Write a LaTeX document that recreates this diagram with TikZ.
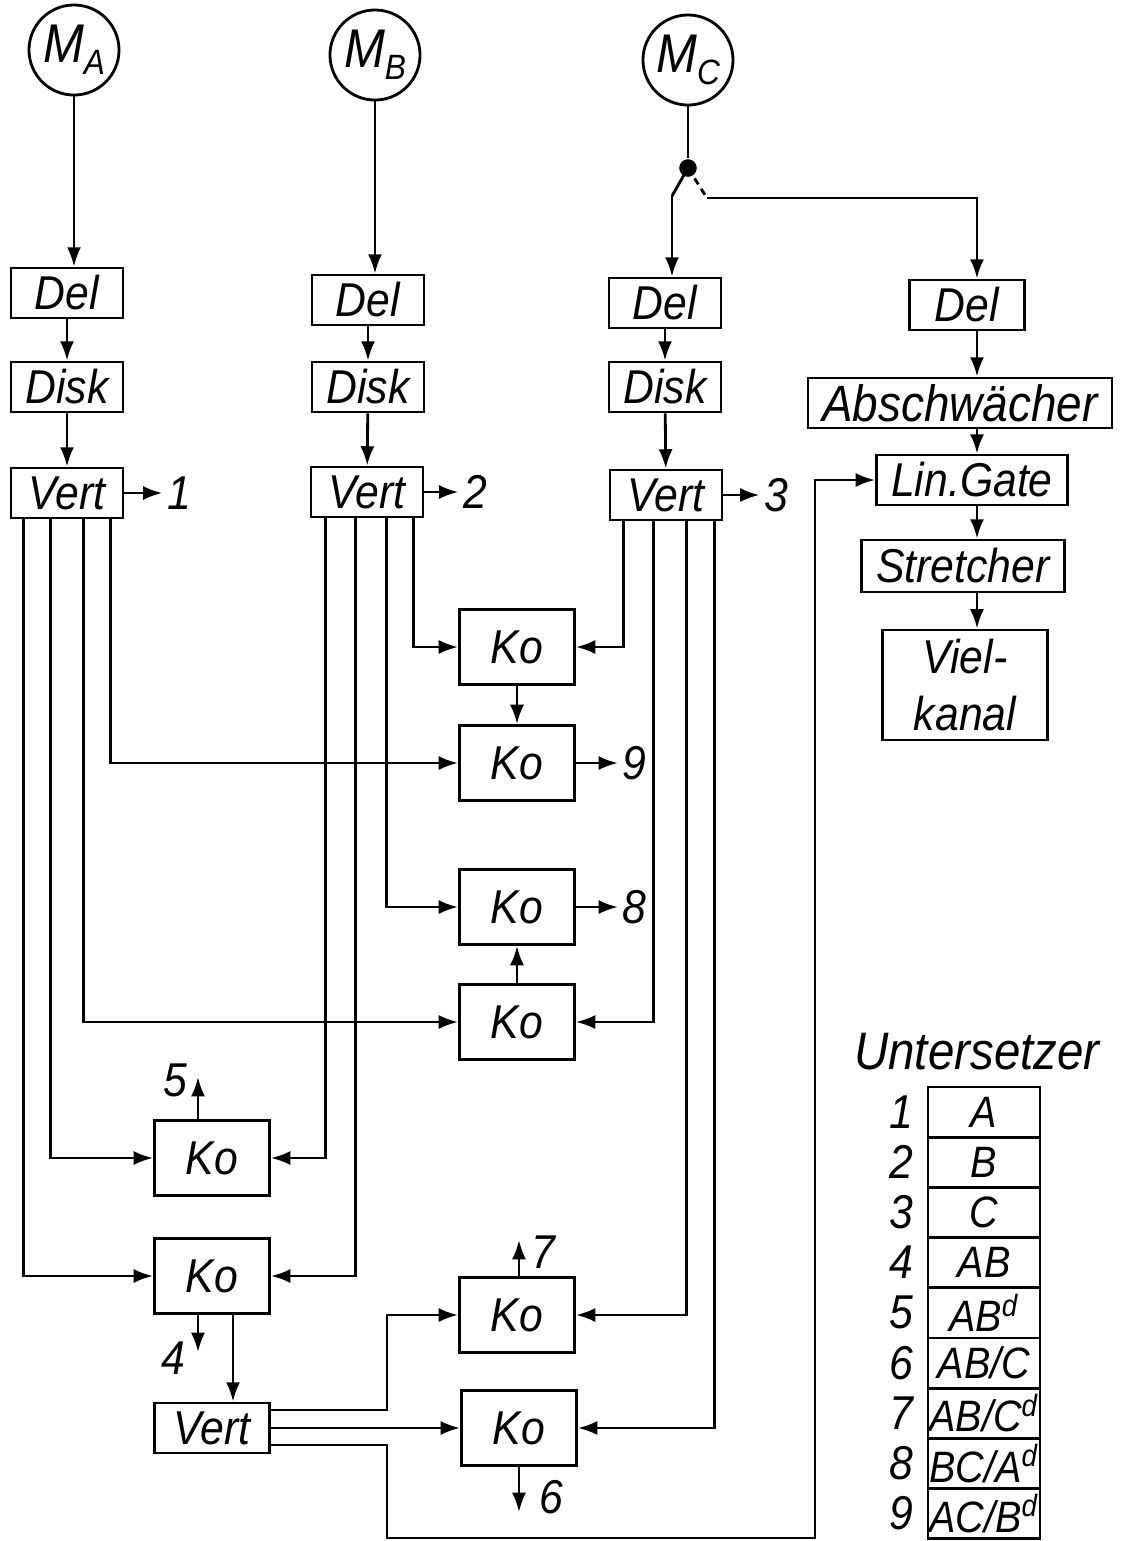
\documentclass[tikz,border=0pt]{standalone}
\usepackage{fontspec}
\setmainfont{Liberation Sans}[FakeStretch=0.9]
\usetikzlibrary{arrows.meta,calc,positioning}
\tikzset{
  blk/.style={draw,minimum width=1.12cm,minimum height=0.5cm,inner sep=0pt},
  ko/.style={draw,minimum width=1.15cm,minimum height=0.75cm,inner sep=0pt},
  det/.style={draw,circle,minimum size=0.9cm,inner sep=0pt},
  num/.style={inner sep=1pt},
  cell/.style={draw,minimum width=1.12cm,minimum height=0.502cm,inner sep=0pt,
    font=\itshape\fontsize{12.5}{15}\selectfont}
}
\newcommand{\mlab}[1]{{\fontsize{15.5}{17}\selectfont M}\raisebox{-3.4pt}{\fontsize{10}{11}\selectfont #1}}

\begin{document}
\begin{tikzpicture}[x=0.01cm,y=-0.01cm,line width=0.8pt,
  >={Latex[length=5.5pt,width=4pt]},
  every node/.style={font=\itshape\fontsize{13.5}{16}\selectfont}]
\useasboundingbox (0,0) rectangle (1126,1541);

% detectors and their chains
\node[det] (mA) at (74,50) {\mlab{A}};
\node[det] (mB) at (375,55) {\mlab{B}};
\node[det] (mC) at (688,60) {\mlab{C}};
\node[blk] (dA) at (67,293) {Del};
\node[blk] (kA) at (67,387) {Disk};
\node[blk] (vA) at (67,493) {Vert};
\node[blk] (dB) at (368,300) {Del};
\node[blk] (kB) at (368,387) {Disk};
\node[blk] (vB) at (367,492) {Vert};
\node[blk] (dC) at (665,303) {Del};
\node[blk] (kC) at (665,387) {Disk};
\node[blk] (vC) at (666,495) {Vert};
\node[num,right=0.38cm of vA] (o1) {1};
\node[num,right=0.34cm of vB] (o2) {2};
\node[num,right=0.36cm of vC] (o3) {3};

% energy branch
\node[blk,minimum width=1.15cm] (dR) at (967,305) {Del};
\node[blk,minimum width=3.04cm,font=\itshape\fontsize{14.5}{16}\selectfont] (ab) at (960,403) {Abschwächer};
\node[blk,minimum width=1.91cm] (lg) at (972,480) {Lin.Gate};
\node[blk,minimum width=2.03cm,minimum height=0.52cm] (st) at (963,566) {Stretcher};
\node[blk,minimum width=1.65cm,minimum height=1.1cm,align=center] (vk) at (965,685) {Viel-\\kanal};

% coincidences
\node[ko] (ko1) at (517,647) {Ko};
\node[ko] (ko2) at (517,763) {Ko};
\node[ko] (ko3) at (517,907) {Ko};
\node[ko] (ko4) at (517,1022) {Ko};
\node[ko] (ko5) at (212,1158) {Ko};
\node[ko] (ko6) at (212,1276) {Ko};
\node[ko] (ko7) at (517,1315) {Ko};
\node[ko] (ko8) at (519,1428) {Ko};
\node[blk,minimum width=1.15cm] (vV) at (212,1428) {Vert};
\node[num,right=0.42cm of ko2] (o9) {9};
\node[num,right=0.42cm of ko3] (o8) {8};
\node[num] (o5) at (175,1080) {5};
\node[num] (o4) at (173,1358) {4};
\node[num] (o7) at (543,1252) {7};
\node[num] (o6) at (551,1497) {6};

% helper points
\node[fill,circle,inner sep=0pt,minimum size=5pt] (sw) at (688,168) {};
\coordinate (swL) at (672,196);
\coordinate (swR) at (707,198);
\coordinate (rx) at (977,0);
\coordinate (jx) at (387,0);
\coordinate (lp1) at (387,1538);
\coordinate (lp2) at (815,1538);
\coordinate (t5) at (198,1077);
\coordinate (t4) at (198,1352);
\coordinate (t7) at (519,1240);
\coordinate (t6) at (519,1512);
\coordinate (c6) at (233,0);

% chains
\draw[->] (mA) -- (mA |- dA.north);
\draw[->] (dA) -- (kA);
\draw[->] (kA) -- (vA);
\draw[->] (mB) -- (mB |- dB.north);
\draw[->] (dB) -- (kB);
\draw[->] (kB) -- (vB);
\draw (mC) -- (sw);
\draw (sw.center) -- (swL);
\draw[->] (swL) -- (swL |- dC.north);
\draw[dash pattern=on 2pt off 1.5pt] (sw.center) -- (swR);
\draw[->] (swR) -| (rx |- dR.north);
\draw[->] (dC) -- (kC);
\draw[->] (kC) -- (vC);
\draw[->] (vA) -- (o1);
\draw[->] (vB) -- (o2);
\draw[->] (vC) -- (o3);
\draw[->] (rx |- dR.south) -- (rx |- ab.north);
\draw[->] (rx |- ab.south) -- (rx |- lg.north);
\draw[->] (rx |- lg.south) -- (rx |- st.north);
\draw[->] (rx |- st.south) -- (rx |- vk.north);

% Vert A
\draw[->] ($(vA.south west)+(101,0)$) |- (ko2.west);
\draw[->] ($(vA.south west)+(74,0)$) |- (ko4.west);
\draw[->] ($(vA.south west)+(41,0)$) |- (ko5.west);
\draw[->] ($(vA.south west)+(14,0)$) |- (ko6.west);
% Vert B
\draw[->] ($(vB.south west)+(104,0)$) |- (ko1.west);
\draw[->] ($(vB.south west)+(77,0)$) |- (ko3.west);
\draw[->] ($(vB.south west)+(46,0)$) |- (ko6.east);
\draw[->] ($(vB.south west)+(16,0)$) |- (ko5.east);
% Vert C
\draw[->] ($(vC.south west)+(15,0)$) |- (ko1.east);
\draw[->] ($(vC.south west)+(45,0)$) |- (ko4.east);
\draw[->] ($(vC.south west)+(78,0)$) |- (ko7.east);
\draw[->] ($(vC.south west)+(106,0)$) |- (ko8.east);

% coincidence outputs
\draw[->] (ko1) -- (ko2);
\draw[->] (ko4) -- (ko3);
\draw[->] (ko2) -- (o9);
\draw[->] (ko3) -- (o8);
\draw[->] (t5 |- ko5.north) -- (t5);
\draw[->] (t4 |- ko6.south) -- (t4);
\draw[->] (c6 |- ko6.south) -- (c6 |- vV.north);
\draw[->] (t7 |- ko7.north) -- (t7);
\draw[->] (t6 |- ko8.south) -- (t6);
\draw[->] ($(vV.east)+(0,-18)$) -| (jx |- ko7.west) -- (ko7.west);
\draw[->] (vV) -- (ko8);
\draw[->] ($(vV.east)+(0,17)$) -| (lp1) -- (lp2) |- (lg.west);

% scalers
\node[font=\itshape\fontsize{15}{17}\selectfont] (ut) at (977,1052) {Untersetzer};
\foreach \t [count=\i] in {A,B,C,AB,AB\textsuperscript{d},AB/C,AB/C\textsuperscript{d},BC/A\textsuperscript{d},AC/B\textsuperscript{d}}{
  \node[cell] (u\i) at (984,{1112.1+(\i-1)*50.2}) {\t};
  \node[num] (n\i) at (901,{1112+(\i-1)*50.2}) {\i};
}
\end{tikzpicture}
\end{document}
